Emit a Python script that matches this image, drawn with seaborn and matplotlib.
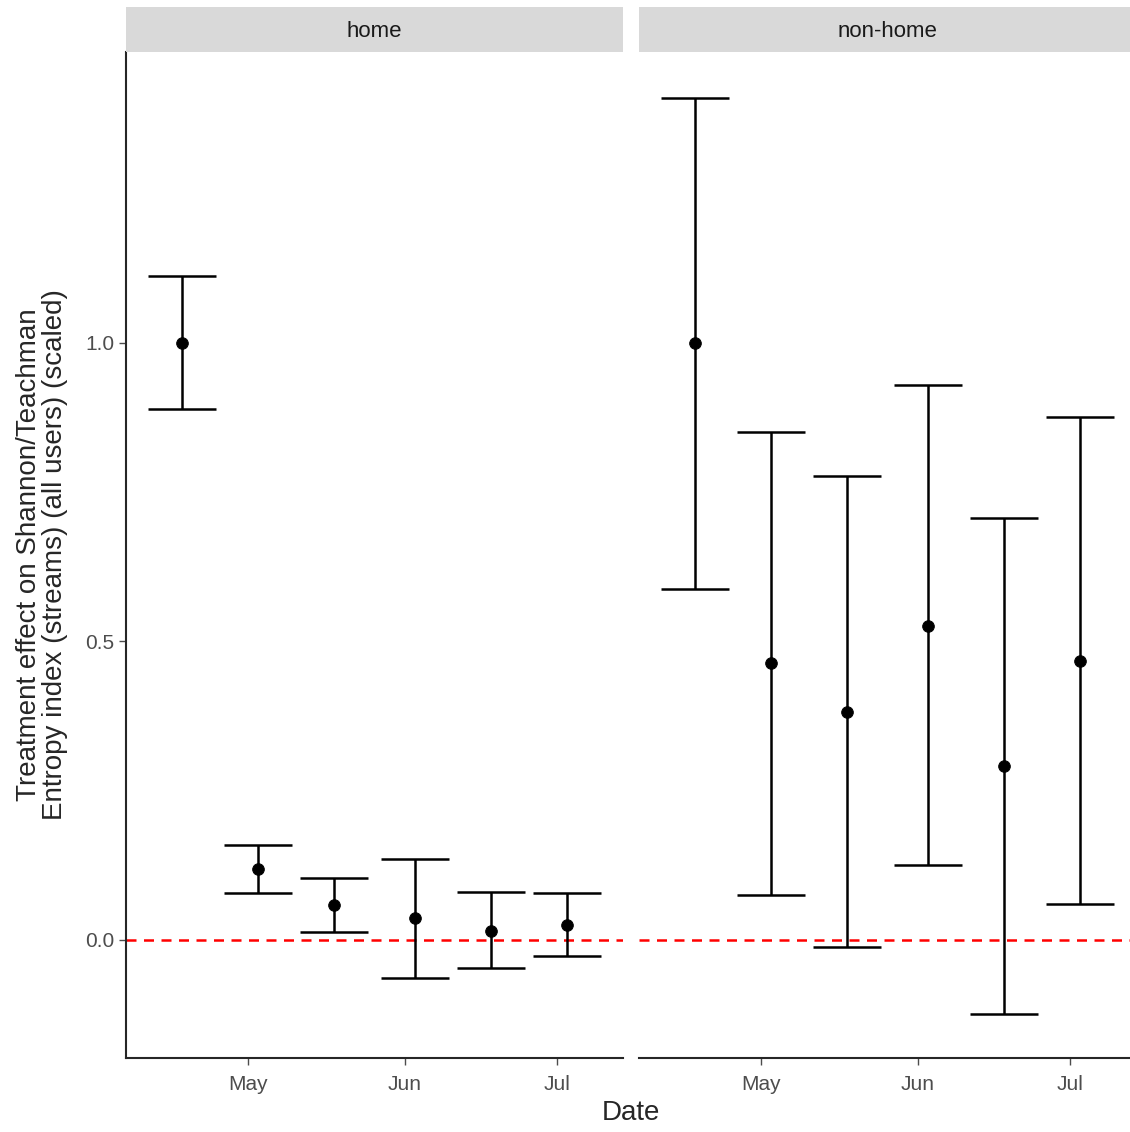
import matplotlib
matplotlib.use("Agg")
import matplotlib.pyplot as plt
import matplotlib.dates as mdates
import seaborn as sns
import pandas as pd
import numpy as np

dates = ["2020-04-18", "2020-05-03", "2020-05-18", "2020-06-03", "2020-06-18", "2020-07-03"]
home_est = [1.0, 0.119, 0.059, 0.037, 0.015, 0.025]
home_lo = [0.889, 0.079, 0.013, -0.064, -0.047, -0.027]
home_hi = [1.111, 0.159, 0.104, 0.136, 0.080, 0.079]
non_est = [1.0, 0.464, 0.382, 0.526, 0.291, 0.467]
non_lo = [0.588, 0.075, -0.012, 0.126, -0.124, 0.060]
non_hi = [1.410, 0.851, 0.776, 0.930, 0.707, 0.876]
panels = ["home", "non-home"]

sns.set_theme(style="ticks")
plt.rcParams['font.family'] = ['Liberation Sans', 'DejaVu Sans']
fig = plt.figure(figsize=(11.3, 11.32), dpi=100)
W, H = 1130, 1132
pw = 497
axes = [fig.add_axes([126/W, 1-1058/H, pw/W, (1058-52)/H]),
        fig.add_axes([639/W, 1-1058/H, pw/W, (1058-52)/H])]
data = [(home_est, home_lo, home_hi), (non_est, non_lo, non_hi)]
xd = pd.to_datetime(dates)
xlim = (mdates.date2num(pd.Timestamp("2020-04-07")) - 0.1, mdates.date2num(pd.Timestamp("2020-07-14")) + 0.1)
for i, (ax, (e, lo, hi)) in enumerate(zip(axes, data)):
    df = pd.DataFrame({"date": xd, "est": e, "lo": lo, "hi": hi})
    xn = mdates.date2num(df["date"])
    ax.vlines(xn, df["lo"], df["hi"], color="black", lw=1.8)
    ax.hlines(df["lo"], xn-6.7, xn+6.7, color="black", lw=1.8)
    ax.hlines(df["hi"], xn-6.7, xn+6.7, color="black", lw=1.8)
    sns.scatterplot(x=xn, y=df["est"], ax=ax, color="black", s=70, edgecolor="black", zorder=3)
    ax.axhline(0, color="red", ls=(0, (4, 3)), lw=1.8, zorder=1)
    ax.set_xlim(*xlim)
    ax.set_ylim(-0.198, 1.487)
    ax.xaxis.set_major_locator(mdates.MonthLocator(bymonth=[5, 6, 7]))
    ax.xaxis.set_major_formatter(mdates.DateFormatter("%b"))
    ax.tick_params(labelsize=15, colors="#4d4d4d", length=5, width=1)
    ax.tick_params(axis="x", pad=7)
    ax.set_yticks([0, 0.5, 1.0])
    ax.set_yticklabels(["0.0", "0.5", "1.0"])
    ax.set_xlabel(""); ax.set_ylabel("")
    for s in ["top", "right"]:
        ax.spines[s].set_visible(False)
    ax.spines["bottom"].set_linewidth(1.5)
    ax.spines["left"].set_linewidth(1.5)
    if i == 1:
        ax.spines["left"].set_visible(False)
        ax.tick_params(axis="y", left=False, labelleft=False)
    pos = ax.get_position()
    sax = fig.add_axes([pos.x0, 1-52/H, pos.width, 45/H])
    sax.set_facecolor("#d9d9d9")
    sax.set_xticks([]); sax.set_yticks([])
    for s in sax.spines.values():
        s.set_visible(False)
    sax.text(0.5, 0.45, panels[i], ha="center", va="center", fontsize=16, color="#1a1a1a", transform=sax.transAxes)

fig.text(631/W, 1-1113/H, "Date", ha="center", va="center", fontsize=20)
fig.text(42/W, 1-555/H, "Treatment effect on Shannon/Teachman\nEntropy index (streams) (all users) (scaled)",
         ha="center", va="center", rotation=90, fontsize=20, linespacing=1.0)
fig.savefig("out.png", dpi=100)
